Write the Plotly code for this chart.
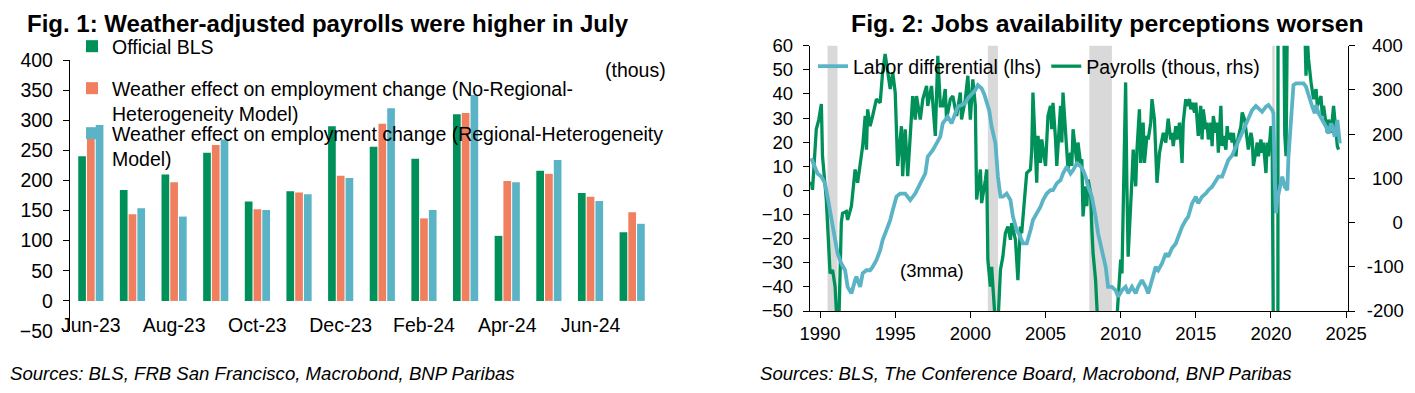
import plotly.graph_objects as go

# ---------------- Fig. 1 data ----------------
months = ["Jun-23", "Jul-23", "Aug-23", "Sep-23", "Oct-23", "Nov-23", "Dec-23",
          "Jan-24", "Feb-24", "Mar-24", "Apr-24", "May-24", "Jun-24", "Jul-24"]
official_bls = [240, 184, 210, 246, 165, 182, 290, 256, 236, 310, 108, 216, 179, 114]
no_regional = [276, 144, 197, 259, 152, 180, 208, 294, 137, 312, 199, 211, 173, 147]
regional = [292, 154, 140, 268, 151, 177, 204, 320, 151, 342, 197, 234, 166, 128]
month_labels = months[::2]

# ---------------- Fig. 2 data ----------------
ld_dates = ["1989-06", "1989-09", "1989-11", "1990-02", "1990-05", "1990-07", "1990-10",
            "1991-01", "1991-03", "1991-06", "1991-09", "1991-11", "1992-02", "1992-05",
            "1992-06", "1992-09", "1992-11", "1993-02", "1993-05", "1993-07", "1993-10",
            "1994-01", "1994-03", "1994-06", "1994-09", "1994-11", "1995-02", "1995-05",
            "1995-09", "1996-01", "1996-05", "1996-09", "1997-01", "1997-03", "1997-07",
            "1997-10", "1998-01", "1998-03", "1998-07", "1998-10", "1999-01", "1999-03",
            "1999-06", "1999-09", "1999-11", "2000-02", "2000-05", "2000-07", "2000-10",
            "2000-12", "2001-02", "2001-04", "2001-06", "2001-09", "2001-11", "2002-01",
            "2002-03", "2002-06", "2002-09", "2002-11", "2003-02", "2003-05", "2003-07",
            "2003-10", "2004-01", "2004-03", "2004-06", "2004-09", "2004-11", "2005-02",
            "2005-05", "2005-07", "2005-10", "2006-01", "2006-03", "2006-06", "2006-09",
            "2006-11", "2007-02", "2007-05", "2007-07", "2007-09", "2007-11", "2008-02",
            "2008-05", "2008-07", "2008-10", "2009-01", "2009-03", "2009-06", "2009-09",
            "2009-11", "2010-02", "2010-05", "2010-07", "2010-10", "2011-01", "2011-03",
            "2011-06", "2011-09", "2011-11", "2012-02", "2012-05", "2012-07", "2012-10",
            "2013-01", "2013-03", "2013-06", "2013-09", "2013-11", "2014-02", "2014-05",
            "2014-07", "2014-10", "2015-01", "2015-03", "2015-06", "2015-09", "2015-11",
            "2016-02", "2016-05", "2016-07", "2016-10", "2017-01", "2017-03", "2017-06",
            "2017-09", "2017-11", "2018-02", "2018-05", "2018-07", "2018-10", "2019-01",
            "2019-03", "2019-06", "2019-09", "2019-11", "2020-02", "2020-03", "2020-04",
            "2020-05", "2020-06", "2020-08", "2020-10", "2020-12", "2021-02", "2021-03",
            "2021-05", "2021-07", "2021-09", "2021-12", "2022-03", "2022-05", "2022-08",
            "2022-10", "2022-12", "2023-01", "2023-03", "2023-06", "2023-09", "2023-11",
            "2024-01", "2024-04", "2024-06", "2024-08"]
ld_values = [13.3, 9.8, 7.0, 5.7, 2.9, -2.6, -10.9,
             -20.6, -26.1, -30.3, -33.1, -40.0, -42.7, -37.2,
             -35.8, -40.0, -34.4, -33.1, -33.1, -31.7, -28.9,
             -24.8, -20.6, -16.5, -12.3, -8.2, -2.6, -1.3,
             -1.3, -4.0, -1.3, 2.9, 7.0, 14.0, 16.7,
             19.5, 22.3, 27.8, 30.6, 27.8, 32.0, 34.7,
             35.4, 36.1, 38.2, 40.2, 41.6, 43.7, 42.3,
             40.0, 36.1, 33.3, 26.4, 19.5, 5.7, -2.6,
             -2.6, -1.3, -4.0, -10.9, -16.5, -19.2, -22.0,
             -22.0, -16.5, -12.3, -9.5, -6.8, -4.0, -1.3,
             0.1, 0.1, 2.9, 4.3, 7.0, 9.8, 7.0,
             8.4, 11.2, 10.0, 8.4, 5.7, 1.5, -2.6,
             -10.9, -17.8, -24.8, -31.7, -40.0, -40.0, -41.4,
             -44.1, -41.4, -40.0, -42.7, -40.0, -42.7, -40.0,
             -37.2, -40.0, -42.7, -37.2, -31.7, -33.1, -30.3,
             -26.1, -27.5, -24.0, -22.0, -19.2, -15.1, -12.3,
             -10.9, -5.4, -2.6, -5.4, -2.6, -1.3, 0.1,
             1.5, 4.3, 5.7, 5.7, 9.8, 12.6, 14.5,
             18.0, 21.0, 24.0, 27.0, 30.0, 33.3, 35.0,
             34.0, 32.6, 34.7, 35.4, 33.3, 32.0, 5.0,
             -9.5, -4.0, 2.0, 5.7, 1.5, 0.1, 14.0,
             30.0, 43.7, 44.4, 44.4, 44.4, 43.0, 37.5,
             34.7, 32.0, 35.4, 32.0, 29.2, 26.4, 23.6,
             27.8, 22.3, 29.2, 19.5]

pay_dates = ["1989-06", "1989-07", "1989-10", "1989-12", "1990-02", "1990-03", "1990-06",
             "1990-09", "1990-11", "1991-01", "1991-03", "1991-04", "1991-06", "1991-07",
             "1991-10", "1991-11", "1992-02", "1992-05", "1992-07", "1992-09", "1992-11",
             "1993-01", "1993-02", "1993-03", "1993-05", "1993-07", "1993-10", "1994-01",
             "1994-03", "1994-05", "1994-07", "1994-09", "1994-11", "1995-01", "1995-03",
             "1995-06", "1995-07", "1995-09", "1995-11", "1996-01", "1996-03", "1996-05",
             "1996-06", "1996-09", "1996-11", "1997-02", "1997-03", "1997-06", "1997-09",
             "1997-11", "1998-01", "1998-03", "1998-05", "1998-06", "1998-09", "1998-11",
             "1999-02", "1999-05", "1999-06", "1999-09", "1999-11", "2000-01", "2000-03",
             "2000-05", "2000-06", "2000-09", "2000-10", "2001-01", "2001-02", "2001-03",
             "2001-05", "2001-06", "2001-07", "2001-09", "2001-11", "2002-01", "2002-03",
             "2002-05", "2002-07", "2002-09", "2002-10", "2003-01", "2003-03", "2003-05",
             "2003-06", "2003-07", "2003-10", "2004-01", "2004-02", "2004-03", "2004-05",
             "2004-06", "2004-07", "2004-09", "2004-10", "2004-11", "2005-01", "2005-03",
             "2005-05", "2005-06", "2005-07", "2005-09", "2005-10", "2006-01", "2006-02",
             "2006-03", "2006-06", "2006-07", "2006-09", "2006-10", "2006-11", "2007-02",
             "2007-03", "2007-05", "2007-06", "2007-07", "2007-09", "2007-10", "2007-11",
             "2008-01", "2008-02", "2008-03", "2008-05", "2008-06", "2008-07", "2008-10",
             "2009-03", "2009-07", "2009-10", "2009-11", "2010-01", "2010-02", "2010-03",
             "2010-04", "2010-05", "2010-06", "2010-07", "2010-10", "2010-11", "2011-01",
             "2011-02", "2011-04", "2011-05", "2011-07", "2011-08", "2011-10", "2011-11",
             "2012-01", "2012-02", "2012-04", "2012-06", "2012-08", "2012-09", "2012-11",
             "2013-01", "2013-03", "2013-05", "2013-06", "2013-07", "2013-09", "2013-10",
             "2013-12", "2014-02", "2014-03", "2014-05", "2014-06", "2014-08", "2014-09",
             "2014-10", "2014-12", "2015-01", "2015-03", "2015-05", "2015-06", "2015-07",
             "2015-09", "2015-10", "2015-11", "2016-01", "2016-02", "2016-03", "2016-05",
             "2016-06", "2016-07", "2016-09", "2016-10", "2016-11", "2017-01", "2017-02",
             "2017-03", "2017-05", "2017-06", "2017-07", "2017-09", "2017-10", "2017-11",
             "2018-01", "2018-02", "2018-04", "2018-06", "2018-07", "2018-09", "2018-10",
             "2018-11", "2019-01", "2019-02", "2019-03", "2019-05", "2019-06", "2019-07",
             "2019-09", "2019-10", "2019-11", "2020-01", "2020-02", "2020-03", "2020-04",
             "2020-05", "2020-06", "2020-07", "2020-08", "2020-09", "2020-10", "2020-11",
             "2020-12", "2021-01", "2021-02", "2021-03", "2021-06", "2021-09", "2021-12",
             "2022-03", "2022-04", "2022-05", "2022-06", "2022-07", "2022-09", "2022-11",
             "2023-01", "2023-02", "2023-05", "2023-06", "2023-07", "2023-09", "2023-10",
             "2023-11", "2024-01", "2024-03", "2024-04", "2024-06", "2024-07"]
pay_values = [93, 74, 211, 233, 268, 150, 52,
              -115, -107, -145, -250, -230, 0, 21,
              25, 6, 37, 120, 90, 128, 173,
              241, 165, 256, 218, 241, 279, 271,
              340, 381, 340, 302, 340, 294, 128,
              218, 105, 211, 105, 188, 286, 233,
              286, 233, 279, 309, 264, 309, 196,
              377, 264, 264, 302, 233, 279, 286,
              241, 294, 233, 279, 332, 233, 324,
              264, 52, 120, 44, 97, 120, -84,
              -145, -100, -145, -230, -230, -107, -77,
              -24, -9, -39, -1, -39, -130, -9,
              -24, 6, 112, 120, 165, 294, 165,
              90, 196, 135, 188, 165, 128, 241,
              264, 211, 271, 188, 128, 264, 181,
              294, 165, 120, 158, 128, 211, 135,
              181, 135, 143, 14, 82, 37, 97,
              67, -16, -69, -130, -183, -230, -500,
              -700, -350, -220, -153, -84, -115, 6,
              128, 317, 82, -77, 97, 165, 82,
              165, 256, 135, 226, 135, 196, 188,
              226, 279, 233, 90, 158, 173, 203,
              181, 235, 188, 203, 173, 218, 188,
              226, 135, 226, 279, 264, 279, 256,
              271, 249, 271, 196, 264, 188, 256,
              211, 226, 188, 226, 173, 241, 203,
              226, 158, 264, 173, 196, 165, 218,
              188, 203, 181, 203, 150, 181, 196,
              218, 249, 233, 188, 165, 203, 188,
              128, 173, 181, 150, 188, 158, 181,
              112, 181, 150, 218, 165, -300, -7000,
              -6200, -4300, 3000, 2600, 1300, 900, 550,
              200, 150, 450, 650, 600, 550, 600,
              550, 450, 332, 420, 370, 317, 279,
              302, 264, 286, 241, 264, 218, 203,
              233, 203, 264, 233, 173, 165]

recession_starts = ["1990-07-01", "2001-03-01", "2007-12-01", "2020-02-01"]
recession_ends = ["1991-03-01", "2001-11-01", "2009-06-01", "2020-04-01"]

year_ticks = [1990, 1995, 2000, 2005, 2010, 2015, 2020, 2025]
rhs_ticks = [-200, -100, 0, 100, 200, 300, 400]

# ---------------- styling ----------------
OFF = 8                      # page body margin in the browser
W, H = 1415 - OFF, 393 - OFF
FONT = "Liberation Sans, Arial, sans-serif"
GREEN = "#00915A"
ORANGE = "#F07F5F"
TEAL = "#5AB4C6"
GREY = "#D9D9D9"


def px_x(p):
    return (p - OFF) / W


def px_y(p):
    return 1 - (p - OFF) / H


fig = go.Figure()

# ---- Fig 1 bars ----
fig.add_trace(go.Bar(x=months, y=official_bls, name="Official BLS",
                     marker=dict(color=GREEN, line_width=0),
                     xaxis="x", yaxis="y", legend="legend"))
fig.add_trace(go.Bar(x=months, y=no_regional,
                     name="Weather effect on employment change (No-Regional-<br>Heterogeneity Model)",
                     marker=dict(color=ORANGE, line_width=0),
                     xaxis="x", yaxis="y", legend="legend2"))
fig.add_trace(go.Bar(x=months, y=regional,
                     name="Weather effect on employment change (Regional-Heterogeneity<br>Model)",
                     marker=dict(color=TEAL, line_width=0),
                     xaxis="x", yaxis="y", legend="legend3"))

# ---- Fig 2 lines ----
fig.add_trace(go.Scatter(x=ld_dates, y=ld_values, mode="lines",
                         name="Labor differential (lhs)",
                         line=dict(color=TEAL, width=3.8),
                         xaxis="x2", yaxis="y4", legend="legend4"))
fig.add_trace(go.Scatter(x=pay_dates, y=pay_values, mode="lines",
                         name="Payrolls (thous, rhs)",
                         line=dict(color=GREEN, width=3.3),
                         xaxis="x2", yaxis="y2", legend="legend4"))

# recession shading
for s, e in zip(recession_starts, recession_ends):
    fig.add_shape(type="rect", xref="x2", yref="y2 domain", x0=s, x1=e, y0=0, y1=1,
                  fillcolor=GREY, line_width=0, layer="below")

# ---- geometry ----
L1_dom = [px_x(70), px_x(653)]
L1_ydom = [px_y(331), px_y(60)]
zero_pos = L1_ydom[0] + (0 - (-50)) / 450 * (L1_ydom[1] - L1_ydom[0])
R_dom = [px_x(810), px_x(1348)]
R_ydom = [px_y(311), px_y(45.7)]

axis_common = dict(showgrid=False, zeroline=False, linecolor="black", linewidth=1.3,
                   tickcolor="black", tickwidth=1.3, ticklen=6, fixedrange=True,
                   automargin=False)

NB = "\u00a0"


# right-aligned labels for the right axis (pad with no-break spaces)
def pad_label(v):
    s = str(v)
    if s.startswith("-"):
        return s
    if len(s) == 1:
        return NB * 5 + s
    return NB + s


LEFT_FS = 19.5
RIGHT_FS = 18.5

fig.update_layout(
    template="none",
    width=W, height=H,
    margin=dict(l=0, r=0, t=0, b=0, autoexpand=False),
    paper_bgcolor="white", plot_bgcolor="rgba(0,0,0,0)",
    font=dict(family=FONT, color="black", size=LEFT_FS),
    barmode="group", bargap=0.37, bargroupgap=0.12,
    xaxis=dict(domain=L1_dom, type="category", categoryarray=months,
               range=[-0.5, 13.5], tickmode="array", tickvals=month_labels,
               ticks="", showline=False, anchor="free",
               position=px_y(311), tickfont=dict(size=LEFT_FS),
               showgrid=False, zeroline=False, fixedrange=True, automargin=False),
    xaxis3=dict(domain=L1_dom, overlaying="x", type="linear", range=[-0.5, 13.5],
                anchor="free", position=zero_pos, showline=True, ticks="outside",
                tickvals=[i - 0.5 for i in range(0, 15, 2)], showticklabels=False,
                **axis_common),
    yaxis=dict(domain=L1_ydom, anchor="x", range=[-50, 400], dtick=50,
               showline=True, ticks="outside", tickfont=dict(size=LEFT_FS),
               ticklabelstandoff=6, **axis_common),
    xaxis2=dict(domain=R_dom, anchor="y2", type="date",
                range=["1989-05-01", "2025-02-15"], tickmode="array",
                tickvals=[f"{y}-01-01" for y in year_ticks],
                ticktext=[str(y) for y in year_ticks],
                showline=True, ticks="outside", tickfont=dict(size=RIGHT_FS), **axis_common),
    yaxis2=dict(domain=R_ydom, anchor="x2", side="right", range=[-200, 400],
                tickmode="array", tickvals=rhs_ticks,
                ticktext=[pad_label(v) for v in rhs_ticks],
                showline=True, ticks="outside", tickfont=dict(size=RIGHT_FS),
                ticklabelstandoff=8, **axis_common),
    yaxis4=dict(domain=R_ydom, anchor="x2", overlaying="y2", side="left",
                range=[-50, 60], dtick=10, showline=True, ticks="outside",
                tickfont=dict(size=RIGHT_FS), ticklabelstandoff=6, **axis_common),
    legend=dict(x=px_x(72), y=px_y(27), xanchor="left", yanchor="top",
                bgcolor="rgba(0,0,0,0)", font=dict(size=LEFT_FS), valign="top"),
    legend2=dict(x=px_x(72), y=px_y(69), xanchor="left", yanchor="top",
                 bgcolor="rgba(0,0,0,0)", font=dict(size=LEFT_FS), valign="top"),
    legend3=dict(x=px_x(72), y=px_y(114), xanchor="left", yanchor="top",
                 bgcolor="rgba(0,0,0,0)", font=dict(size=LEFT_FS), valign="top"),
    legend4=dict(x=px_x(813), y=px_y(47), xanchor="left", yanchor="top",
                 orientation="h", bgcolor="rgba(0,0,0,0)", font=dict(size=19.5)),
    showlegend=True,
)

ann = [
    dict(text="<b>Fig. 1: Weather-adjusted payrolls were higher in July</b>",
         x=px_x(25), y=1, xanchor="left", yanchor="top", font=dict(size=24)),
    dict(text="<b>Fig. 2: Jobs availability perceptions worsen</b>",
         x=px_x(849), y=1, xanchor="left", yanchor="top", font=dict(size=24.8)),
    dict(text="(thous)", x=px_x(603), y=px_y(70), xanchor="left", yanchor="middle",
         font=dict(size=LEFT_FS)),
    dict(text="(3mma)", x=px_x(898), y=px_y(270), xanchor="left", yanchor="middle",
         font=dict(size=RIGHT_FS)),
    dict(text="<i>Sources: BLS, FRB San Francisco, Macrobond, BNP Paribas</i>",
         x=0, y=px_y(373), xanchor="left", yanchor="middle", font=dict(size=18.6)),
    dict(text="<i>Sources: BLS, The Conference Board, Macrobond, BNP Paribas</i>",
         x=px_x(758), y=px_y(373), xanchor="left", yanchor="middle", font=dict(size=18.6)),
]
for a in ann:
    fig.add_annotation(xref="paper", yref="paper", showarrow=False, **a)

fig.write_html("out.html")
